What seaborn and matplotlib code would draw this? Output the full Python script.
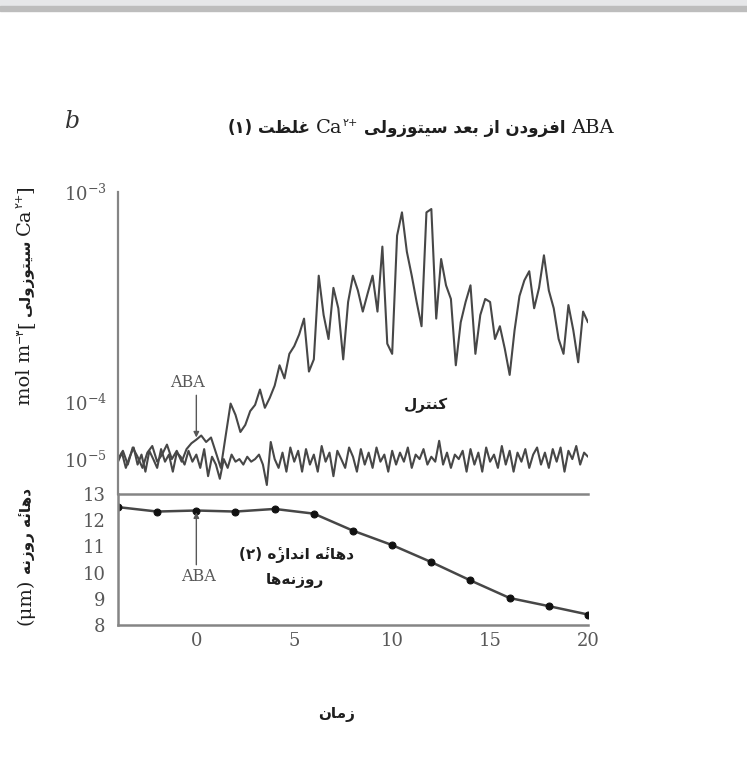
import numpy as np
import pandas as pd
import matplotlib
matplotlib.use("Agg")
import matplotlib.pyplot as plt
from matplotlib.patches import Rectangle
import seaborn as sns

# ---- data ----
# cytosolic Ca2+, units of 1e-5 mol m^-3
ca_ctrl_e5 = [
    0.9, 1.3, 0.7, 1.1, 1.6, 0.8, 1.2, 0.6, 1.4, 1.0,
    0.7, 1.5, 0.9, 1.2, 0.6, 1.3, 1.1, 0.8, 1.4, 0.9,
    1.2, 0.7, 1.5, 0.5, 1.1, 0.8, 0.45, 1.0, 0.7, 1.2,
    0.9, 1.0, 0.8, 1.1, 0.9, 1.0, 1.2, 0.8, 0.35, 2.0,
    1.0, 0.7, 1.3, 0.6, 1.6, 0.9, 1.4, 0.6, 1.5, 0.8,
    1.2, 0.6, 1.7, 0.9, 1.3, 0.5, 1.4, 1.0, 0.7, 1.6,
    1.1, 0.6, 1.5, 0.8, 1.3, 0.7, 1.6, 0.9, 1.2, 0.6,
    1.4, 0.8, 1.3, 0.9, 1.6, 0.7, 1.2, 1.0, 1.5, 0.8,
    1.1, 0.9, 2.1, 0.8, 1.3, 0.7, 1.2, 1.0, 1.4, 0.6,
    1.5, 0.8, 1.3, 0.6, 1.6, 0.9, 1.2, 0.7, 1.7, 0.8,
    1.4, 0.6, 1.3, 0.9, 1.5, 0.7, 1.2, 1.6, 0.8, 1.3,
    0.7, 1.5, 0.9, 1.6, 0.6, 1.4, 1.0, 1.7, 0.8, 1.3,
    1.1,
]
ca_aba_e5 = [
    1.0, 1.4, 0.8, 1.6, 1.1, 0.7, 1.3, 1.7,
    0.9, 1.2, 1.8, 1.0, 1.4, 0.9, 1.5, 1.9,
    2.2, 2.6, 2.0, 2.4, 1.3, 0.7, 2.6, 9.5,
    6.0, 3.0, 4.0, 7.0, 9.0, 11.5, 8.0, 10.5,
    12.0, 15.0, 13.0, 17.0, 18.5, 21.0, 25.0, 14.0,
    16.0, 40.0, 26.0, 20.0, 35.0, 28.0, 16.0, 30.0,
    40.0, 34.0, 27.0, 33.0, 40.0, 27.0, 55.0, 19.0,
    17.0, 62.0, 80.0, 52.0, 40.0, 30.0, 23.0, 80.0,
    83.0, 25.0, 48.0, 36.0, 31.0, 15.0, 24.0, 30.0,
    36.0, 17.0, 26.0, 31.0, 30.0, 20.0, 23.0, 18.0,
    13.5, 22.0, 32.0, 38.0, 42.0, 28.0, 35.0, 50.0,
    34.0, 28.0, 20.0, 17.0, 29.0, 22.0, 15.5, 27.0,
    24.0,
]
# stomatal aperture (um), sampled every 2 min
ap_time = [-4, -2, 0, 2, 4, 6, 8, 10, 12, 14, 16, 18, 20]
ap_um = [12.5, 12.33, 12.37, 12.33, 12.43, 12.25, 11.6, 11.05, 10.4, 9.7, 9.03, 8.72, 8.4]

x_ticks = [0, 5, 10, 15, 20]
ap_ticks = [8, 9, 10, 11, 12, 13]
ca_ticks = [1e-5, 1e-4, 1e-3]
ca_ticklabels = [r"$10^{-5}$", r"$10^{-4}$", r"$10^{-3}$"]

W, H = 747, 768


def fx(px):
    return px / W


def fy(py):
    return 1 - py / H


# ---- minimal Persian shaping (presentation forms) ----
FORMS = {
    "ا": ("\uFE8D", "\uFE8E", None, None),
    "ب": ("\uFE8F", "\uFE90", "\uFE91", "\uFE92"),
    "ت": ("\uFE95", "\uFE96", "\uFE97", "\uFE98"),
    "د": ("\uFEA9", "\uFEAA", None, None),
    "ر": ("\uFEAD", "\uFEAE", None, None),
    "ز": ("\uFEAF", "\uFEB0", None, None),
    "س": ("\uFEB1", "\uFEB2", "\uFEB3", "\uFEB4"),
    "ظ": ("\uFEC5", "\uFEC6", "\uFEC7", "\uFEC8"),
    "ع": ("\uFEC9", "\uFECA", "\uFECB", "\uFECC"),
    "غ": ("\uFECD", "\uFECE", "\uFECF", "\uFED0"),
    "ف": ("\uFED1", "\uFED2", "\uFED3", "\uFED4"),
    "ل": ("\uFEDD", "\uFEDE", "\uFEDF", "\uFEE0"),
    "م": ("\uFEE1", "\uFEE2", "\uFEE3", "\uFEE4"),
    "ن": ("\uFEE5", "\uFEE6", "\uFEE7", "\uFEE8"),
    "ه": ("\uFEE9", "\uFEEA", "\uFEEB", "\uFEEC"),
    "و": ("\uFEED", "\uFEEE", None, None),
    "ی": ("\uFBFC", "\uFBFD", "\uFBFE", "\uFBFF"),
    "ک": ("\uFB8E", "\uFB8F", "\uFB90", "\uFB91"),
}
DUAL = {c for c, f in FORMS.items() if f[2] is not None}
MARKS = {"\u0654"}


def fa(word):
    # group each letter with any combining mark that follows it
    units = []
    for c in word:
        if c in MARKS and units:
            units[-1] += c
        else:
            units.append(c)
    letters = [u[0] for u in units]
    shaped = []
    for i, u in enumerate(units):
        c = u[0]
        if c == "\u200c":
            continue
        if c not in FORMS:
            shaped.append(u)
            continue
        prev = letters[i - 1] if i > 0 else None
        nxt = letters[i + 1] if i + 1 < len(letters) else None
        jp = prev in DUAL
        jn = c in DUAL and nxt in FORMS
        iso, fin, ini, med = FORMS[c]
        g = med if (jp and jn) else fin if jp else ini if jn else iso
        shaped.append(g + u[1:])
    return "".join(reversed(shaped))


def run_text(fig, pieces, x, y, rotation=0):
    """pieces: (text, props, rise_px) or a number (gap in px); centred on x/y."""
    r = fig.canvas.get_renderer()
    widths = []
    for p in pieces:
        if isinstance(p, (int, float)):
            widths.append(p)
            continue
        t = fig.text(0, 0, p[0], **p[1])
        widths.append(t.get_window_extent(r).width)
        t.remove()
    pos = -sum(widths) / 2
    for p, w in zip(pieces, widths):
        if not isinstance(p, (int, float)):
            s, props, rise = p
            if rotation == 0:
                px, py = x + pos, y - rise
            else:
                px, py = x - rise, y - pos
            fig.text(fx(px), fy(py), s, rotation=rotation, rotation_mode="anchor",
                     ha="left", va="baseline", **props)
        pos += w


def fwd(v):
    v = np.asarray(v, dtype=float)
    lv = np.log10(np.clip(v, 1e-12, None)) + 5
    return np.where(lv <= 1, lv * 0.27, lv - 0.73)


def inv(g):
    g = np.asarray(g, dtype=float)
    with np.errstate(over="ignore"):
        return np.where(g <= 0.27, 10 ** (g / 0.27 - 5), 10 ** (g - 4.27))


sns.set_style("white")
plt.rcParams["font.family"] = ["DejaVu Serif"]
plt.rcParams["mathtext.fontset"] = "dejavuserif"

INK = "#474747"
TICK = "#585858"
SPINE = "#858585"
serif = dict(family="DejaVu Serif", color=TICK)
pers = dict(family=["DejaVu Sans"], weight="bold", color="#1e1e1e")
dark_serif = dict(family="DejaVu Serif", color="#1e1e1e")

ctrl = pd.DataFrame({"t": np.linspace(-4, 20, len(ca_ctrl_e5)),
                     "ca": np.array(ca_ctrl_e5) * 1e-5})
aba = pd.DataFrame({"t": np.linspace(-4, 20, len(ca_aba_e5)),
                    "ca": np.array(ca_aba_e5) * 1e-5})
ap = pd.DataFrame({"t": ap_time, "um": ap_um})

fig = plt.figure(figsize=(W / 100, H / 100), dpi=100)

# top grey band
fig.patches.append(Rectangle((0, fy(6)), 1, 6 / H, transform=fig.transFigure,
                             color="#e6e7e9", zorder=0))
fig.patches.append(Rectangle((0, fy(10.5)), 1, 4.5 / H, transform=fig.transFigure,
                             color="#bdbdbd", zorder=0))

ax_ca = fig.add_axes([fx(118), fy(494), (588 - 118) / W, (494 - 192) / H])
ax_ap = fig.add_axes([fx(118), fy(625), (588 - 118) / W, (625 - 494) / H])

# ---- Ca2+ panel ----
ax_ca.set_yscale("function", functions=(fwd, inv))
sns.lineplot(data=ctrl, x="t", y="ca", ax=ax_ca, color=INK, lw=1.5, estimator=None)
sns.lineplot(data=aba, x="t", y="ca", ax=ax_ca, color=INK, lw=1.5, estimator=None)
ax_ca.set_xlim(-4, 20)
ax_ca.set_ylim(float(inv(-0.166)), 1e-3)
ax_ca.set_yticks(ca_ticks)
ax_ca.set_yticklabels(ca_ticklabels)
ax_ca.yaxis.set_minor_locator(matplotlib.ticker.NullLocator())
ax_ca.set_xticks([])
ax_ca.set_xlabel("")
ax_ca.set_ylabel("")
for s in ["top", "right", "bottom"]:
    ax_ca.spines[s].set_visible(False)
ax_ca.spines["left"].set_color(SPINE)
ax_ca.spines["left"].set_linewidth(1.6)
ax_ca.tick_params(axis="y", direction="in", length=7, width=1.4, color=SPINE,
                  labelsize=13, labelcolor=TICK, pad=8)
ax_ca.patch.set_alpha(0)

ax_ca.annotate("", xy=(0, 2.4e-5), xytext=(0, 1.08e-4),
               arrowprops=dict(arrowstyle="-|>", color=TICK, lw=1.0,
                               mutation_scale=8, shrinkA=0, shrinkB=0))
ax_ca.text(-0.45, 1.24e-4, "ABA", ha="center", va="center", fontsize=11.5, **serif)
ax_ca.text(11.7, 9.0e-5, fa("کنترل"), ha="center", va="center", fontsize=11, **pers)

# ---- stomatal aperture panel ----
sns.lineplot(data=ap, x="t", y="um", ax=ax_ap, color=INK, lw=1.8,
             marker="o", markersize=5, markerfacecolor="#111111",
             markeredgecolor="#111111", estimator=None)
ax_ap.set_xlim(-4, 20)
ax_ap.set_ylim(8, 13)
ax_ap.set_xticks(x_ticks)
ax_ap.set_yticks(ap_ticks)
ax_ap.set_xlabel("")
ax_ap.set_ylabel("")
ax_ap.spines["right"].set_visible(False)
for s in ["top", "left", "bottom"]:
    ax_ap.spines[s].set_color(SPINE)
    ax_ap.spines[s].set_linewidth(1.8)
ax_ap.tick_params(direction="in", length=7, width=1.4, color=SPINE,
                  labelsize=13, labelcolor=TICK)
ax_ap.tick_params(axis="x", pad=5)
ax_ap.tick_params(axis="y", pad=9)
ax_ap.patch.set_alpha(0)

ax_ap.annotate("", xy=(0, 12.3), xytext=(0, 10.3),
               arrowprops=dict(arrowstyle="-|>", color=TICK, lw=1.0,
                               mutation_scale=8, shrinkA=0, shrinkB=0))
ax_ap.text(0.1, 9.85, "ABA", ha="center", va="center", fontsize=11.5, **serif)

fig.text(fx(297), fy(555), "(۲) " + fa("اندازه\u0654") + " " + fa("دهانه\u0654"),
         ha="center", va="center", fontsize=11, **pers)
fig.text(fx(295), fy(580), fa("روزنه\u200cها"), ha="center", va="center",
         fontsize=11, **pers)

# ---- titles / labels ----
fig.text(fx(73), fy(122), "b", ha="center", va="center", fontsize=17,
         style="italic", family="DejaVu Serif", color="#333333")

run_text(fig, [
    ("(۱)", dict(fontsize=12, **pers), 0), 5,
    (fa("غلظت"), dict(fontsize=12, **pers), 0), 6,
    ("Ca", dict(fontsize=14, **dark_serif), 0),
    ("۲+", dict(fontsize=8, family=["DejaVu Sans"], color="#1e1e1e"), 7), 6,
    (" ".join(fa(w) for w in ["سیتوزولی", "بعد", "از", "افزودن"]),
     dict(fontsize=12, **pers), 0), 6,
    ("ABA", dict(fontsize=14, **dark_serif), 0),
], 421, 133)

run_text(fig, [
    ("mol m", dict(fontsize=14, **dark_serif), 0),
    ("−۳", dict(fontsize=8, family=["DejaVu Sans"], color="#1e1e1e"), 7),
    ("[", dict(fontsize=14, **dark_serif), 0), 4,
    (fa("سیتوزولی"), dict(fontsize=11, **pers), 0), 5,
    ("Ca", dict(fontsize=14, **dark_serif), 0),
    ("۲+", dict(fontsize=8, family=["DejaVu Sans"], color="#1e1e1e"), 7),
    ("]", dict(fontsize=14, **dark_serif), 0),
], 30, 295, rotation=90)

run_text(fig, [
    ("(μm)", dict(fontsize=14, **dark_serif), 0), 6,
    (fa("روزنه"), dict(fontsize=11, **pers), 0), 5,
    (fa("دهانه\u0654"), dict(fontsize=11, **pers), 0),
], 30, 556, rotation=90)

fig.text(fx(337), fy(714), fa("زمان"), ha="center", va="center", fontsize=11, **pers)

fig.savefig("out.png", dpi=100)
